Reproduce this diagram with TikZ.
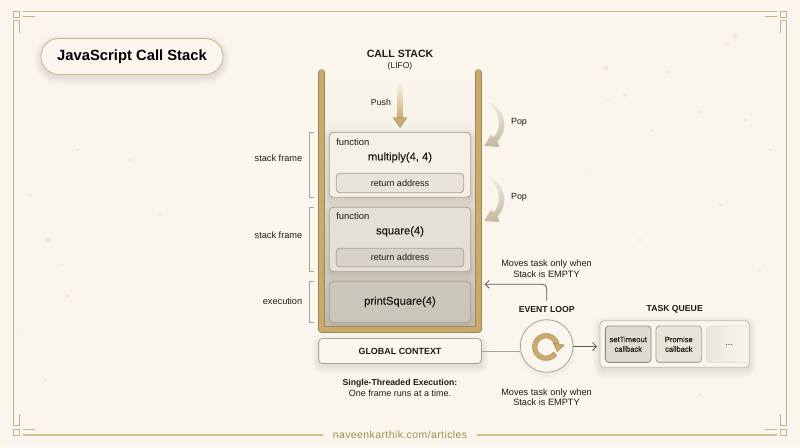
\documentclass[tikz,border=0pt]{standalone}
\usepackage{fontspec}
\setmainfont{Liberation Sans}
\newfontfamily\medfont[FakeBold=0.25]{Liberation Sans}
\newfontfamily\footfont[LetterSpace=4]{Liberation Sans}
\usetikzlibrary{arrows.meta}
\definecolor{bgc}{HTML}{FAF6EE}
\definecolor{framec}{HTML}{C6B488}
\definecolor{footline}{HTML}{D2C08F}
\definecolor{footc}{HTML}{A08D4E}
\definecolor{tanc}{HTML}{CBAB6C}
\definecolor{tandk}{HTML}{9C875A}
\definecolor{inkc}{HTML}{1E1C17}
\definecolor{linec}{HTML}{A9A394}
\definecolor{connc}{HTML}{5F5A4C}
\definecolor{shadowc}{HTML}{80745A}
\definecolor{speck}{HTML}{EFE6D3}
\definecolor{popc}{HTML}{C2B89C}
\def\px{0.75pt}
\newcommand\fsz[2]{\fontsize{#1pt}{#2pt}\selectfont}
\newcommand\softshadow[5]{\foreach \i in {0,...,7}{\fill[shadowc,opacity=0.02,rounded corners=#5*\px+\i*\px] ({#1-\i},{#2-\i+3}) rectangle ({#3+\i},{#4+\i+3});}}
\tikzset{
  x=0.75pt,y=-0.75pt,
  lab/.style={text=inkc,inner sep=0pt,align=center,font=\fsz{6.9}{7.9}},
  head/.style={text=inkc,inner sep=0pt,font=\bfseries\fsz{6.5}{8}},
  fn/.style={text=inkc,inner sep=0pt,anchor=west,font=\fsz{7.1}{8}},
  callname/.style={text=inkc,inner sep=0pt,font=\medfont\fsz{8.4}{10}},
  boxed/.style={draw=linec,line width=0.6pt,rounded corners=3pt,inner sep=0pt,outer sep=0pt,text=inkc},
  retbox/.style={boxed,rounded corners=2.5pt,font=\fsz{6.8}{8}},
  card/.style={boxed,rounded corners=2.5pt,align=center,font=\medfont\fsz{5.7}{7.2}},
  brk/.style={draw=#1,line width=0.6pt},
  frameline/.style={draw=framec,line width=0.75pt},
  conn/.style={draw=connc,line width=0.6pt,-{Straight Barb[length=3pt,width=6pt]}},
  popshape/.style={top color=linec!12!bgc,bottom color=popc,draw=none},
}
\begin{document}
\begin{tikzpicture}
\useasboundingbox (0,0) rectangle (800,447);
\fill[bgc] (0,0) rectangle (800,447);
% specks
\foreach \a/\b/\r in {606/68/1.8,625/95/1.3,608/100/1.1,652/130/1,700/112/1.2,735/36/2,727/44/1.5,48/240/2,67/296/1.8,30/195/1,78/150/1,62/265/1,22/330/1,130/160/0.9,160/215/0.9,720/205/1,668/72/1,745/120/1,590/170/0.9,760/270/1,45/380/1,700/395/1,640/240/0.9,770/150/1}{
  \fill[speck,opacity=0.35] (\a,\b) circle[radius=\r*1.7*\px];
  \fill[speck] (\a,\b) circle[radius=\r*\px];
}
% ornamental frame
\draw[frameline] (13.5,11) rectangle (19.5,17);
\draw[frameline] (780.5,11) rectangle (786.5,17);
\draw[frameline] (13.5,429.5) rectangle (19.5,435);
\draw[frameline] (780.5,429.5) rectangle (786.5,435);
\draw[frameline] (23,16.5) -- (35,16.5);
\draw[frameline] (777,16.5) -- (765,16.5);
\draw[frameline] (23,429.5) -- (35,429.5);
\draw[frameline] (777,429.5) -- (765,429.5);
\draw[frameline] (23,11) -- (777,11);
\draw[frameline] (19.5,33) -- (19.5,20) -- (13.5,20) -- (13.5,425.5) -- (19.5,425.5) -- (19.5,414);
\draw[frameline] (780.5,33) -- (780.5,20) -- (786.5,20) -- (786.5,425.5) -- (780.5,425.5) -- (780.5,414);
% footer
\node[inner sep=0pt,text=footc,font=\footfont\fsz{7.85}{9}] (foot) at (400,435) {naveenkarthik.com/articles};
\coordinate (footl) at (23,435);
\coordinate (footr) at (777,435);
\draw[footline,line width=1.2pt] (footl) -- (323,435);
\draw[footline,line width=1.2pt] (477,435) -- (footr);
% title
\softshadow{41}{38.5}{223}{74.5}{18}
\node[draw=framec,line width=0.6pt,fill=bgc,rounded corners=13.4pt,inner sep=0pt,text=black,
  minimum width=182*\px,minimum height=36*\px,font=\bfseries\fsz{11.1}{13}] (title) at (132,56.5) {JavaScript Call Stack};
% stack interior
\shade[top color=bgc,bottom color=bgc!97!linec] (325,70) rectangle (475,110);
\shade[top color=bgc!97!linec,bottom color=black!6!linec!55!bgc] (325,110) rectangle (475,327);
% headings
\node[text=inkc,inner sep=0pt,font=\bfseries\fsz{7.9}{9}] (cs) at (400,53.5) {CALL STACK};
\node[text=inkc,inner sep=0pt,font=\fsz{6.4}{8}] (lifo) at (400,66.5) {(LIFO)};
% push arrow
\shade[top color=bgc,bottom color=tanc] (397.5,82) rectangle (402.5,118);
\fill[tanc,draw=tandk,line width=0.3pt] (393.3,117.5) -- (406.7,117.5) -- (400,127.5) -- cycle;
\node[lab,font=\fsz{6.6}{8}] (push) at (381,102) {Push};
% pop arrows
\foreach \o in {0,75}{
  \begin{scope}[yshift=-\o*\px]
  \shade[popshape] (487,102) .. controls (499,104) and (513,124) .. (497.5,141.5) -- (499.5,147) -- (484.3,146) -- (491,134.5) -- (493.5,137.5) .. controls (505,124) and (497,108) .. (487,102) -- cycle;
  \end{scope}
}
\node[lab,font=\fsz{6.7}{8}] (pop1) at (519,122) {Pop};
\node[lab,font=\fsz{6.7}{8}] (pop2) at (519,197) {Pop};
% frames
\softshadow{329.5}{132.5}{470.5}{197.5}{4}
\node[boxed,fill=bgc!93!linec,minimum width=141.4*\px,minimum height=65*\px] (f1) at (400,164.8) {};
\node[fn] (fn1) at (336,142) {function};
\node[callname] (mul) at (400,157.5) {multiply(4, 4)};
\node[retbox,fill=linec!22!bgc,minimum width=127.4*\px,minimum height=19.4*\px] (ret1) at (400,183) {return address};
\softshadow{329.5}{207.5}{470.5}{271.5}{4}
\node[boxed,fill=linec!27!bgc,minimum width=141.4*\px,minimum height=64.4*\px] (f2) at (400,239.5) {};
\node[fn] (fn2) at (336,216.5) {function};
\node[callname] (sq) at (400,231.5) {square(4)};
\node[retbox,fill=linec!42!bgc,minimum width=127.4*\px,minimum height=18.4*\px] (ret2) at (400,257.5) {return address};
\softshadow{329.5}{281.5}{470.5}{322}{4}
\node[boxed,fill=linec!58!bgc,minimum width=141.4*\px,minimum height=41*\px,font=\medfont\fsz{8.4}{10}] (exec) at (400,301.8) {printSquare(4)};
% walls
\draw[tandk,line width=6.5*\px,line cap=round,line join=round] (321.7,72.5) -- (321.7,329.5) -- (478.3,329.5) -- (478.3,72.5);
\draw[tanc,line width=5.5*\px,line cap=round,line join=round] (321.7,72.5) -- (321.7,329.5) -- (478.3,329.5) -- (478.3,72.5);
% brackets
\draw[brk=linec] (314,132.3) -- (309.5,132.3) -- (309.5,197.3) -- (314,197.3);
\draw[brk=linec] (314,207.3) -- (309.5,207.3) -- (309.5,271.7) -- (314,271.7);
\draw[brk=linec] (314,281.3) -- (309.5,281.3) -- (309.5,322.3) -- (314,322.3);
\node[lab,anchor=east] (sf1) at (302.5,158) {stack frame};
\node[lab,anchor=east] (sf2) at (302.5,235.5) {stack frame};
\node[lab,anchor=east] (ex) at (302.5,301) {execution};
% global context
\softshadow{319}{339}{481.5}{363.5}{4}
\node[boxed,fill=bgc,minimum width=162.8*\px,minimum height=25*\px,font=\bfseries\fsz{6.7}{8}] (gc) at (400,351) {GLOBAL CONTEXT};
\node[lab,font=\fsz{6.75}{8}] (note) at (400,387.7) {{\bfseries\fsz{6.5}{8}Single-Threaded Execution:}\\One frame runs at a time.};
% event loop
\fill[shadowc,opacity=0.04] (547,349) circle[radius=29*\px];
\fill[shadowc,opacity=0.04] (547,348) circle[radius=27.5*\px];
\node[circle,draw=linec,line width=0.6pt,fill=bgc,minimum size=52.6*\px,inner sep=0pt,outer sep=0pt] (loop) at (546.7,346) {};
\draw[tandk,line width=5*\px,line cap=butt] (546,347) ++(-35:8.5pt) arc[start angle=-35,end angle=-352,radius=8.5pt];
\draw[tanc,line width=3.9*\px,line cap=butt] (546,347) ++(-35:8.5pt) arc[start angle=-35,end angle=-352,radius=8.5pt];
\fill[tanc,draw=tandk,line width=0.3pt] (553.3,343.3) -- (564.3,345) -- (557.3,351.7) -- cycle;
\node[head] (el) at (546.7,309.5) {EVENT LOOP};
\node[head] (tq) at (674.7,309.5) {TASK QUEUE};
\node[lab] (mv1) at (546.5,268.7) {Moves task only when\\Stack is EMPTY};
\node[lab] (mv2) at (546.5,397) {Moves task only when\\Stack is EMPTY};
% task queue
\softshadow{600}{320.7}{749.3}{367.3}{4}
\node[boxed,draw=linec!70!bgc,fill=bgc,minimum width=149.3*\px,minimum height=46.6*\px] (queue) at (674.65,344) {};
\node[card,draw=linec!85!black,fill=linec!32!bgc,minimum width=45.7*\px,minimum height=36.3*\px] (c1) at (628.2,344.2) {setTimeout\\callback};
\node[card,fill=linec!22!bgc,minimum width=45.7*\px,minimum height=36.3*\px] (c2) at (678.8,344.2) {Promise\\callback};
\shade[left color=linec!20!bgc,right color=bgc,rounded corners=2.5pt] (706.3,326) rectangle (748,362.3);
\draw[linec!35!bgc,line width=0.5pt,rounded corners=2.5pt] (748,326) -- (706.3,326) -- (706.3,362.3) -- (748,362.3);
\node[text=inkc,inner sep=0pt,font=\fsz{6.5}{8}] (c3) at (729,345) {...};
% connectors
\coordinate (elTop) at (546.7,300.7);
\coordinate (stackIn) at (484.7,284.3);
\draw[conn,rounded corners=3pt] (elTop) |- (stackIn);
\draw[draw=linec,line width=0.6pt] (gc.east) -- (loop.west |- gc.east);
\coordinate (qIn) at (597,346.5);
\draw[conn] (loop.east |- qIn) -- (qIn);
\end{tikzpicture}
\end{document}
